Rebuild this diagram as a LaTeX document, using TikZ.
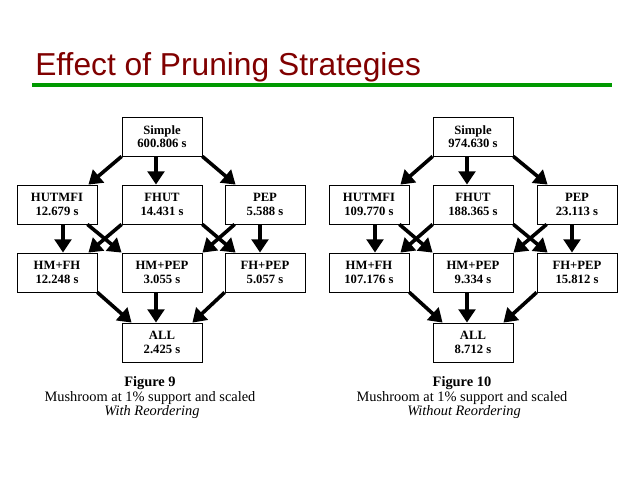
\documentclass[tikz,border=0pt]{standalone}
\usepackage{fontspec}
\setmainfont{Liberation Serif}
\newfontfamily\titlefont{Liberation Sans}
\usetikzlibrary{arrows.meta,calc}
\definecolor{titlered}{RGB}{128,0,0}
\definecolor{rulegreen}{RGB}{0,153,0}
\tikzset{
  box/.style={draw, line width=0.6pt, minimum width=60pt, minimum height=29.25pt,
    inner sep=0pt, align=center, font=\fontsize{9.5}{10}\selectfont\bfseries},
  arr/.style={line width=2.7pt, -{Triangle[length=10pt,width=12.5pt]}},
  figlabel/.style={anchor=base, inner sep=0pt, font=\fontsize{10.8}{12}\selectfont}
}
\begin{document}
\begin{tikzpicture}[x=0.75pt,y=-0.75pt]
      \useasboundingbox (0,0) rectangle (640,480);
      \node[anchor=base west, inner sep=0pt, text=titlered,
        font=\titlefont\fontsize{23.8}{28}\selectfont] (title) at (35,75) {Effect of Pruning Strategies};
      \draw[rulegreen, line width=3pt] (32,85) -- (612,85);
      % Figure 9
      \node[box] (s9) at (162,136.5) {Simple\\600.806 s};
      \node[box] (h9) at (57,204.5) {HUTMFI\\12.679 s};
      \node[box] (f9) at (162,204.5) {FHUT\\14.431 s};
      \node[box] (p9) at (265,204.5) {PEP\\5.588 s};
      \node[box] (hf9) at (57,272.5) {HM+FH\\12.248 s};
      \node[box] (hp9) at (162,272.5) {HM+PEP\\3.055 s};
      \node[box] (fp9) at (265,272.5) {FH+PEP\\5.057 s};
      \node[box] (a9) at (162,342.5) {ALL\\2.425 s};
      \node[figlabel] (fig9) at (150,386) {\textbf{Figure 9}};
      \node[figlabel] (sub9) at (150,401) {Mushroom at 1\% support and scaled};
      \node[figlabel] (ord9) at (152,415) {\textit{With Reordering}};
      % Figure 10
      \node[box] (s10) at (473,136.5) {Simple\\974.630 s};
      \node[box] (h10) at (369,204.5) {HUTMFI\\109.770 s};
      \node[box] (f10) at (473,204.5) {FHUT\\188.365 s};
      \node[box] (p10) at (577,204.5) {PEP\\23.113 s};
      \node[box] (hf10) at (369,272.5) {HM+FH\\107.176 s};
      \node[box] (hp10) at (473,272.5) {HM+PEP\\9.334 s};
      \node[box] (fp10) at (577,272.5) {FH+PEP\\15.812 s};
      \node[box] (a10) at (473,342.5) {ALL\\8.712 s};
      \node[figlabel] (fig10) at (462,386) {\textbf{Figure 10}};
      \node[figlabel] (sub10) at (462,401) {Mushroom at 1\% support and scaled};
      \node[figlabel] (ord10) at (464,415) {\textit{Without Reordering}};
      \begin{scope}[arr]
        \draw (s9.south west) -- ($(h9.north east)+(-9,0)$);
        \draw ($(s9.south)+(-6,0)$) -- ($(f9.north)+(-6,0)$);
        \draw (s9.south east) -- ($(p9.north west)+(11,0)$);
        \draw ($(h9.south)+(6,0)$) -- ($(hf9.north)+(6,0)$);
        \draw ($(h9.south east)+(-10,0)$) -- (hp9.north west);
        \draw (f9.south west) -- ($(hf9.north east)+(-9,0)$);
        \draw (f9.south east) -- ($(fp9.north west)+(11,0)$);
        \draw ($(p9.south west)+(10,0)$) -- (hp9.north east);
        \draw ($(p9.south)+(-5,0)$) -- ($(fp9.north)+(-5,0)$);
        \draw (hf9.south east) -- ($(a9.north west)+(10,0)$);
        \draw ($(hp9.south)+(-6,0)$) -- ($(a9.north)+(-6,0)$);
        \draw (fp9.south west) -- ($(a9.north east)+(-10,0)$);
        \draw (s10.south west) -- ($(h10.north east)+(-9,0)$);
        \draw ($(s10.south)+(-6,0)$) -- ($(f10.north)+(-6,0)$);
        \draw (s10.south east) -- ($(p10.north west)+(11,0)$);
        \draw ($(h10.south)+(6,0)$) -- ($(hf10.north)+(6,0)$);
        \draw ($(h10.south east)+(-10,0)$) -- (hp10.north west);
        \draw (f10.south west) -- ($(hf10.north east)+(-9,0)$);
        \draw (f10.south east) -- ($(fp10.north west)+(11,0)$);
        \draw ($(p10.south west)+(10,0)$) -- (hp10.north east);
        \draw ($(p10.south)+(-5,0)$) -- ($(fp10.north)+(-5,0)$);
        \draw (hf10.south east) -- ($(a10.north west)+(10,0)$);
        \draw ($(hp10.south)+(-6,0)$) -- ($(a10.north)+(-6,0)$);
        \draw (fp10.south west) -- ($(a10.north east)+(-10,0)$);
      \end{scope}
    \end{tikzpicture}
\end{document}
